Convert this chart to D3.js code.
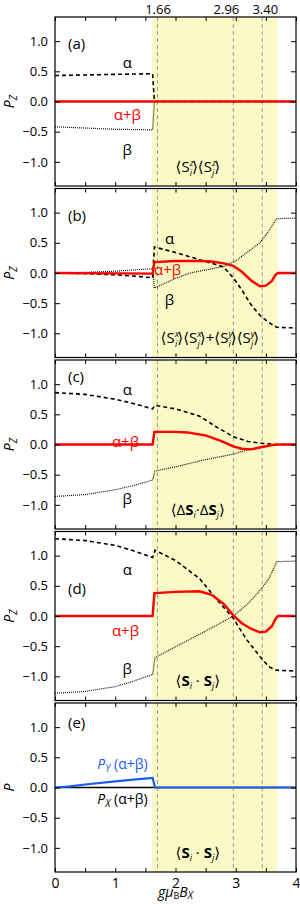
<!DOCTYPE html>
<html>
<head>
<meta charset="utf-8">
<script src="https://cdn.jsdelivr.net/npm/d3@7"></script>
<style>
  body { margin: 0; background: #fff; }
  svg text { font-family: "Open Sans", "DejaVu Sans", sans-serif; }
</style>
</head>
<body>
<svg id="chart" width="300" height="904"></svg>
<script>
// x positions of the phase boundaries and their labels
let bandRange = [1.607, 3.69];
let boundaryX = [1.70, 2.96, 3.44];
let boundaryLabels = ["1.66", "2.96", "3.40"];
let boundaryLabelX = [1.71, 2.845, 3.49];
let xTicks = [0, 0.5, 1, 1.5, 2, 2.5, 3, 3.5, 4];
let yTicks = [-1, -0.5, 0, 0.5, 1];

// panel (a)  <Si^z><Sj^z>
let aAlpha = [[0,0.43],[0.5,0.44],[1,0.45],[1.62,0.46],[1.65,0],[4,0]];
let aBeta  = [[0,-0.42],[0.5,-0.44],[1,-0.46],[1.62,-0.47],[1.65,0],[4,0]];
let aSum   = [[0,0],[4,0]];

// panel (b)  <Si^x><Sj^x>+<Si^y><Sj^y>
let bAlpha = [[0,0],[0.5,-0.01],[1,-0.03],[1.3,-0.05],[1.62,-0.08],[1.65,0.43],[2.0,0.34],[2.4,0.22],[2.8,0.1],[2.96,-0.08],[3.1,-0.28],[3.25,-0.52],[3.4,-0.7],[3.55,-0.82],[3.68,-0.9],[4,-0.91]];
let bBeta  = [[0,0],[0.5,0.01],[1,0.03],[1.3,0.05],[1.62,0.07],[1.65,-0.25],[2.0,-0.09],[2.24,0],[2.5,0.05],[2.8,0.11],[3.0,0.2],[3.2,0.35],[3.4,0.5],[3.55,0.7],[3.68,0.9],[4,0.91]];
let bSum   = [[0,0],[1.62,-0.01],[1.65,0.18],[2.0,0.2],[2.4,0.2],[2.6,0.19],[2.8,0.16],[2.96,0.12],[3.1,0.02],[3.25,-0.12],[3.4,-0.22],[3.5,-0.21],[3.6,-0.13],[3.66,-0.03],[3.7,0],[4,0]];

// panel (c)  <dSi.dSj>
let cAlpha = [[0,0.86],[0.5,0.83],[1,0.75],[1.3,0.68],[1.62,0.59],[1.66,0.65],[2.0,0.59],[2.4,0.47],[2.68,0.29],[2.96,0.13],[3.2,0.05],[3.44,0.02],[3.68,0],[4,0]];
let cBeta  = [[0,-0.86],[0.5,-0.83],[1,-0.75],[1.3,-0.68],[1.62,-0.59],[1.66,-0.44],[2.0,-0.37],[2.5,-0.25],[2.96,-0.16],[3.2,-0.09],[3.44,-0.04],[3.68,0],[4,0]];
let cSum   = [[0,0],[1.62,0],[1.65,0.21],[2.0,0.21],[2.2,0.2],[2.5,0.15],[2.75,0.06],[2.96,-0.03],[3.1,-0.07],[3.25,-0.08],[3.4,-0.05],[3.6,-0.01],[3.7,0],[4,0]];

// panel (d)  <Si.Sj>
let dAlpha = [[0,1.28],[0.5,1.25],[1,1.17],[1.3,1.08],[1.62,0.97],[1.66,1.09],[2.0,0.92],[2.4,0.62],[2.68,0.28],[2.96,-0.04],[3.18,-0.39],[3.4,-0.67],[3.55,-0.84],[3.68,-0.9],[4,-0.91]];
let dBeta  = [[0,-1.28],[0.5,-1.25],[1,-1.17],[1.3,-1.08],[1.62,-0.97],[1.66,-0.69],[2.0,-0.51],[2.5,-0.25],[2.96,0],[3.2,0.2],[3.4,0.42],[3.55,0.62],[3.68,0.9],[4,0.91]];
let dSum   = [[0,0],[1.62,0],[1.65,0.38],[2.0,0.4],[2.4,0.41],[2.6,0.35],[2.8,0.2],[2.96,0.01],[3.1,-0.12],[3.25,-0.21],[3.4,-0.27],[3.5,-0.26],[3.6,-0.17],[3.66,-0.05],[3.7,0],[4,0]];

// panel (e)  in-plane components
let ePy = [[0,0],[0.25,0.02],[0.5,0.05],[1,0.1],[1.3,0.13],[1.62,0.16],[1.66,0],[4,0]];
let ePx = [[0,0],[4,0]];

let left = 55, right = 296;
let panelTops = [17, 188.5, 360, 531.5, 703];
let panelH = 169;

let svg = d3.select("#chart");
let x = d3.scaleLinear().domain([0, 4]).range([left, right]);

let line = d3.line().x(d => x(d[0]));

function subS(g, bold, sub, sup) {
    g.append("tspan").text("S").attr("font-weight", bold ? "bold" : null);
    if (sup) {
        g.append("tspan").text(sup).attr("font-style", "italic").attr("font-size", 9).attr("dy", -6);
        g.append("tspan").text(sub).attr("font-style", "italic").attr("font-size", 9).attr("dx", -4).attr("dy", 10);
        g.append("tspan").text("\u27E9").attr("dy", -4);
    } else {
        g.append("tspan").text(sub).attr("font-style", "italic").attr("font-size", 9).attr("dy", 3);
        g.append("tspan").text("\u27E9").attr("dy", -3);
    }
}

let panels = [
    {tag: "(a)", tagY: 0.95, alpha: aAlpha, beta: aBeta, sum: aSum,
     aLab: [1.2, 0.65], sLab: [1.2, -0.22], bLab: [1.2, -0.8], formula: "zz"},
    {tag: "(b)", tagY: 0.95, alpha: bAlpha, beta: bBeta, sum: bSum,
     aLab: [1.9, 0.56], sLab: [1.87, 0.05], bLab: [1.9, -0.45], formula: "xy"},
    {tag: "(c)", tagY: 1.12, alpha: cAlpha, beta: cBeta, sum: cSum,
     aLab: [1.2, 0.9], sLab: [1.17, 0.05], bLab: [1.2, -0.9], formula: "dd"},
    {tag: "(d)", tagY: 0.45, alpha: dAlpha, beta: dBeta, sum: dSum,
     aLab: [1.2, 0.76], sLab: [1.17, -0.24], bLab: [1.2, -0.88], formula: "ss"},
    {tag: "(e)", tagY: 1.07, formula: "ss"}
];

panels.forEach((p, i) => {
    let top = panelTops[i];
    let y = d3.scaleLinear().domain([-1.4, 1.4]).range([top + panelH, top]);
    let g = svg.append("g");

    g.append("rect")
        .attr("x", x(bandRange[0])).attr("width", x(bandRange[1]) - x(bandRange[0]))
        .attr("y", top).attr("height", panelH)
        .attr("fill", "#fbfac6");

    g.selectAll(".vline").data(boundaryX).enter().append("line")
        .attr("x1", d => x(d)).attr("x2", d => x(d))
        .attr("y1", top).attr("y2", top + panelH)
        .attr("stroke", "#999").attr("stroke-width", 1)
        .attr("stroke-dasharray", "4,3");

    let ln = line.y(d => y(d[1]));

    if (i < 4) {
        g.append("path").attr("d", ln(p.beta)).attr("fill", "none")
            .attr("stroke", "#111").attr("stroke-width", 1.2).attr("stroke-dasharray", "1,1");
        g.append("path").attr("d", ln(p.alpha)).attr("fill", "none")
            .attr("stroke", "#000").attr("stroke-width", 1.6).attr("stroke-dasharray", "4,3");
        g.append("path").attr("d", ln(p.sum)).attr("fill", "none")
            .attr("stroke", "#ff0000").attr("stroke-width", 2.4);

        g.append("text").attr("x", x(p.aLab[0])).attr("y", y(p.aLab[1])).attr("dy", "0.35em")
            .attr("text-anchor", "middle").attr("font-size", 15).text("\u03b1");
        g.append("text").attr("x", x(p.bLab[0])).attr("y", y(p.bLab[1])).attr("dy", "0.35em")
            .attr("text-anchor", "middle").attr("font-size", 15).text("\u03b2");
        g.append("text").attr("x", x(p.sLab[0])).attr("y", y(p.sLab[1])).attr("dy", "0.35em")
            .attr("text-anchor", "middle").attr("font-size", 15).attr("fill", "#ff0000").text("\u03b1+\u03b2");
    } else {
        g.append("path").attr("d", ln(ePx)).attr("fill", "none")
            .attr("stroke", "#000").attr("stroke-width", 1.5);
        g.append("path").attr("d", ln(ePy)).attr("fill", "none")
            .attr("stroke", "#1a5cf0").attr("stroke-width", 2.2);
        let ty = g.append("text").attr("x", x(1.12)).attr("y", y(0.38)).attr("dy", "0.35em")
            .attr("text-anchor", "middle").attr("font-size", 14).attr("fill", "#1a5cf0");
        ty.append("tspan").text("P").attr("font-style", "italic");
        ty.append("tspan").text("Y").attr("font-style", "italic").attr("font-size", 10).attr("dy", 3);
        ty.append("tspan").text(" (\u03b1+\u03b2)").attr("dy", -3);
        let tx = g.append("text").attr("x", x(1.12)).attr("y", y(-0.2)).attr("dy", "0.35em")
            .attr("text-anchor", "middle").attr("font-size", 14).attr("fill", "#000");
        tx.append("tspan").text("P").attr("font-style", "italic");
        tx.append("tspan").text("X").attr("font-style", "italic").attr("font-size", 10).attr("dy", 3);
        tx.append("tspan").text(" (\u03b1+\u03b2)").attr("dy", -3);
    }

    g.append("text").attr("x", 68).attr("y", y(p.tagY)).attr("dy", "0.35em")
        .attr("font-size", 15).text(p.tag);

    // formula text
    let fy = i == 1 ? y(-1.07) : y(-1.08);
    let f = g.append("text").attr("x", i == 1 ? x(2.57) : x(2.37)).attr("y", fy)
        .attr("dy", "0.35em").attr("text-anchor", "middle").attr("font-size", 15);
    if (p.formula == "zz") {
        f.append("tspan").text("\u27E8");
        subS(f, false, "i", "z");
        f.append("tspan").text("\u27E8");
        subS(f, false, "j", "z");
    } else if (p.formula == "xy") {
        f.append("tspan").text("\u27E8");
        subS(f, false, "i", "x");
        f.append("tspan").text("\u27E8");
        subS(f, false, "j", "x");
        f.append("tspan").text("+\u27E8");
        subS(f, false, "i", "y");
        f.append("tspan").text("\u27E8");
        subS(f, false, "j", "y");
    } else if (p.formula == "dd") {
        f.append("tspan").text("\u27E8\u0394");
        f.append("tspan").text("S").attr("font-weight", "bold");
        f.append("tspan").text("i").attr("font-style", "italic").attr("font-size", 9).attr("dy", 3);
        f.append("tspan").text("\u00b7\u0394").attr("dy", -3);
        subS(f, true, "j");
    } else {
        f.append("tspan").text("\u27E8");
        f.append("tspan").text("S").attr("font-weight", "bold");
        f.append("tspan").text("i").attr("font-style", "italic").attr("font-size", 9).attr("dy", 3);
        f.append("tspan").text(" \u00b7 ").attr("dy", -3);
        subS(f, true, "j");
    }

    // axes, ticks pointing inwards
    let bottomAxis = d3.axisBottom(x).tickValues(xTicks).tickSize(-4).tickPadding(6)
        .tickFormat(d => (i == 4 && Number.isInteger(d)) ? d : "");
    let ga = g.append("g").attr("transform", `translate(0,${top + panelH})`).call(bottomAxis);
    ga.selectAll("text").attr("font-size", 14).attr("fill", "#000");
    g.append("g").attr("transform", `translate(0,${top})`)
        .call(d3.axisTop(x).tickValues(xTicks).tickSize(-4).tickFormat(""));
    let gl = g.append("g").attr("transform", `translate(${left},0)`)
        .call(d3.axisLeft(y).tickValues(yTicks).tickSize(-5).tickPadding(7).tickFormat(d3.format(".1f")));
    gl.selectAll("text").attr("font-size", 13).attr("fill", "#000");
    g.append("g").attr("transform", `translate(${right},0)`)
        .call(d3.axisRight(y).tickValues(yTicks).tickSize(-5).tickFormat(""));
    g.selectAll(".domain").remove();
    g.selectAll(".tick line").attr("stroke", "#000");

    g.append("rect").attr("x", left).attr("y", top).attr("width", right - left).attr("height", panelH)
        .attr("fill", "none").attr("stroke", "#000").attr("stroke-width", 1.2);

    // y axis title
    let yt = g.append("text").attr("transform", `translate(14,${y(0)}) rotate(-90)`)
        .attr("text-anchor", "middle").attr("font-size", 14).attr("font-style", "italic");
    yt.append("tspan").text("P");
    if (i < 4) yt.append("tspan").text("Z").attr("font-size", 10).attr("dy", 3);
});

// boundary labels above the top panel
svg.selectAll(".blab").data(boundaryLabelX).enter().append("text")
    .attr("x", d => x(d)).attr("y", 14)
    .attr("text-anchor", "middle").attr("font-size", 13)
    .text((d, k) => boundaryLabels[k]);

// x axis title
let xt = svg.append("text").attr("x", x(2)).attr("y", 897).attr("text-anchor", "middle").attr("font-size", 14);
xt.append("tspan").text("g\u03bc").attr("font-style", "italic");
xt.append("tspan").text("B").attr("font-size", 9).attr("dy", 2);
xt.append("tspan").text("B").attr("font-style", "italic").attr("dy", -2);
xt.append("tspan").text("X").attr("font-style", "italic").attr("font-size", 10).attr("dy", 2);
</script>
</body>
</html>
